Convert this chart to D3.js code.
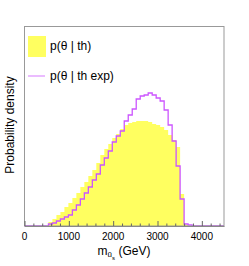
<!DOCTYPE html>
<html><head><meta charset="utf-8">
<script src="https://cdn.jsdelivr.net/npm/d3@7/dist/d3.min.js"></script>
<style>body{margin:0;background:#fff}svg{display:block}text{font-family:"Liberation Sans",Arial,sans-serif}</style>
</head><body>
<script>
// bin lower edges (GeV), 90 GeV wide bins from 0 to 4500
const binEdges = d3.range(0, 4501, 90);
// p(theta | th) - filled yellow histogram (arbitrary density units)
const pTh = [0,0,0,0,0,0,4,7,11,14,19,23,28,33,39,44,50,56,63,71,77,82,88,92,97,101,103,104,105,105,105,104,102,101,99,96,91,86,79,32,1,0,0,0,0,0,0,0,0,0];
// p(theta | th exp) - magenta outline histogram
const pThExp = [0,0,0,0,0,0,2,3,5,7,9,11,16,21,27,33,39,46,52,61,68,75,84,90,95,105,111,117,127,130,131,133,131,128,125,116,101,85,60,27,2,1,0,0,0,0,0,0,0,0];
const xTicksMajor = [0,1000,2000,3000,4000];
const legendLabels = ["p(θ | th)", "p(θ | th exp)"];
const yTitle = "Probability density";

const W = 249, H = 266;
const svg = d3.select("body").append("svg").attr("width", W).attr("height", H);
const x = d3.scaleLinear().domain([0, 4500]).range([24.5, 224]);
const y = d3.scaleLinear().domain([0, 200]).range([226, 26]);
const yellow = "#ffff60", magenta = "#cc55ff";

const step = vals => { const p = vals.map((v,i) => [binEdges[i], v]); p.push([4500, vals[vals.length-1]]); return p; };

// filled histogram
svg.append("path")
  .attr("d", d3.area().x(d => x(d[0])).y0(y(0)).y1(d => y(d[1])).curve(d3.curveStepAfter)(step(pTh)))
  .attr("fill", yellow);

// outline histogram
svg.append("path")
  .attr("d", d3.line().x(d => x(d[0])).y(d => y(d[1])).curve(d3.curveStepAfter)(step(pThExp)))
  .attr("fill", "none").attr("stroke", magenta).attr("stroke-width", 1.3);

// frame
svg.append("rect").attr("x", 24.5).attr("y", 26.5).attr("width", 199.5).attr("height", 199.5)
  .attr("fill", "none").attr("stroke", "#999").attr("stroke-width", 1);

// bottom axis: ticks inside
const ax = d3.axisBottom(x).tickValues(d3.range(0, 4501, 200)).tickSize(0).tickFormat("");
const gx = svg.append("g").attr("transform", "translate(0,226)").call(ax);
gx.select(".domain").attr("stroke", "#888");
gx.selectAll(".tick line").remove();
gx.selectAll(".tick").append("line")
  .attr("y1", 0).attr("y2", d => xTicksMajor.includes(d) ? -5 : -2.5)
  .attr("stroke", "#666").attr("stroke-width", 1);
svg.append("g").selectAll("text").data(xTicksMajor).join("text")
  .attr("x", d => x(d)).attr("y", 240).attr("text-anchor", "middle")
  .attr("font-size", 10).attr("fill", "#000").text(d => d);

// x title
const xt = svg.append("text").attr("x", 124).attr("y", 255).attr("text-anchor", "middle").attr("font-size", 12);
xt.append("tspan").text("m");
xt.append("tspan").attr("font-size", 8).attr("dy", 2).text("ũ");
xt.append("tspan").attr("font-size", 6).attr("dy", 3).text("s");
xt.append("tspan").attr("font-size", 12).attr("dy", -5).text(" (GeV)");

// y title
svg.append("text").attr("transform", "translate(14,125) rotate(-90)")
  .attr("text-anchor", "middle").attr("font-size", 12).text(yTitle);

// legend
svg.append("rect").attr("x", 28).attr("y", 36).attr("width", 18).attr("height", 21).attr("fill", yellow);
svg.append("line").attr("x1", 28).attr("x2", 45).attr("y1", 76).attr("y2", 76)
  .attr("stroke", magenta).attr("stroke-width", 1.3).attr("opacity", 0.6);
svg.append("g").selectAll("text").data(legendLabels).join("text")
  .attr("x", 50).attr("y", (d,i) => i ? 80 : 50).attr("font-size", 12).text(d => d);
</script>
</body></html>
